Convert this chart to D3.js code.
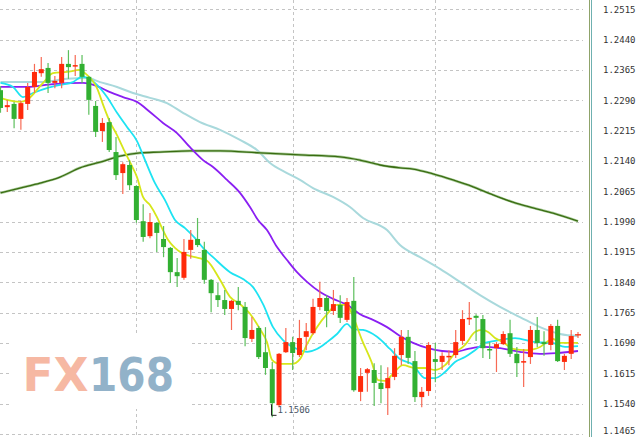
<!DOCTYPE html>
<html><head><meta charset="utf-8">
<script src="https://cdn.jsdelivr.net/npm/d3@7"></script>
<style>html,body{margin:0;padding:0;background:#fff;}svg{display:block;}</style>
</head><body>
<script>
// ---- data ----
const tickLabels = ["1.2515","1.2440","1.2365","1.2290","1.2215","1.2140","1.2065","1.1990","1.1915","1.1840","1.1765","1.1690","1.1615","1.1540","1.1465"];
const gridIdx = [20, 43, 64];
const opens  = [1.2315,1.2273,1.2281,1.2244,1.2281,1.2323,1.2357,1.2370,1.2333,1.2333,1.2380,1.2375,1.2380,1.2348,1.2276,1.2214,1.2236,1.2162,1.2110,1.2130,1.2078,1.1991,1.1954,1.1987,1.1947,1.1925,1.1865,1.1851,1.1920,1.1947,1.1920,1.1846,1.1808,1.1796,1.1774,1.1794,1.1779,1.1700,1.1727,1.1667,1.1625,1.1536,1.1667,1.1692,1.1660,1.1705,1.1714,1.1779,1.1801,1.1769,1.1784,1.1747,1.1794,1.1569,1.1616,1.1623,1.1591,1.1578,1.1606,1.1660,1.1705,1.1645,1.1556,1.1571,1.1650,1.1643,1.1655,1.1660,1.1695,1.1749,1.1757,1.1749,1.1675,1.1677,1.1687,1.1714,1.1663,1.1643,1.1655,1.1722,1.1692,1.1685,1.1732,1.1643,1.1663,1.1709];
const highs  = [1.2325,1.2291,1.2286,1.2288,1.2333,1.2380,1.2397,1.2382,1.2350,1.2397,1.2414,1.2402,1.2402,1.2350,1.2288,1.2246,1.2246,1.2199,1.2137,1.2142,1.2080,1.2033,1.2011,1.1989,1.1979,1.1927,1.1900,1.1947,1.1969,1.1999,1.1940,1.1848,1.1838,1.1821,1.1796,1.1828,1.1791,1.1754,1.1732,1.1729,1.1643,1.1665,1.1727,1.1705,1.1747,1.1739,1.1799,1.1841,1.1808,1.1821,1.1808,1.1801,1.1853,1.1628,1.1628,1.1640,1.1635,1.1630,1.1677,1.1722,1.1722,1.1670,1.1581,1.1692,1.1690,1.1667,1.1672,1.1722,1.1771,1.1791,1.1761,1.1759,1.1692,1.1692,1.1719,1.1747,1.1680,1.1675,1.1732,1.1754,1.1719,1.1737,1.1747,1.1663,1.1722,1.1717];
const lows   = [1.2259,1.2261,1.2221,1.2217,1.2266,1.2308,1.2348,1.2308,1.2320,1.2320,1.2343,1.2350,1.2333,1.2254,1.2199,1.2187,1.2162,1.2093,1.2058,1.2068,1.1987,1.1940,1.1949,1.1915,1.1902,1.1838,1.1828,1.1846,1.1898,1.1927,1.1836,1.1766,1.1779,1.1759,1.1722,1.1771,1.1682,1.1692,1.1650,1.1611,1.1506,1.1531,1.1665,1.1623,1.1655,1.1672,1.1710,1.1771,1.1729,1.1759,1.1739,1.1742,1.1569,1.1546,1.1569,1.1534,1.1541,1.1512,1.1598,1.1635,1.1638,1.1544,1.1531,1.1559,1.1593,1.1623,1.1635,1.1653,1.1685,1.1734,1.1695,1.1653,1.1650,1.1618,1.1685,1.1655,1.1606,1.1581,1.1638,1.1680,1.1658,1.1672,1.1643,1.1623,1.1650,1.1702];
const closes = [1.2271,1.2278,1.2244,1.2283,1.2323,1.2360,1.2367,1.2333,1.2338,1.2380,1.2372,1.2377,1.2348,1.2291,1.2212,1.2234,1.2167,1.2105,1.2132,1.2080,1.1994,1.1952,1.1989,1.1962,1.1927,1.1865,1.1855,1.1915,1.1945,1.1932,1.1846,1.1813,1.1796,1.1774,1.1794,1.1784,1.1702,1.1722,1.1655,1.1628,1.1541,1.1663,1.1692,1.1665,1.1702,1.1719,1.1779,1.1801,1.1769,1.1786,1.1752,1.1791,1.1573,1.1608,1.1625,1.1591,1.1576,1.1603,1.1658,1.1705,1.1653,1.1556,1.1569,1.1685,1.1643,1.1658,1.1658,1.1692,1.1749,1.1752,1.1752,1.1677,1.1672,1.1687,1.1712,1.1663,1.1640,1.1645,1.1722,1.1690,1.1687,1.1732,1.1645,1.1658,1.1707,1.1710];

// moving-average lines, read as [candle index, price]
const maYellow = [[0,1.2296],[0.96,1.2291],[2.87,1.2286],[3.9,1.2291],[6.26,1.2333],[7.73,1.2357],[9.79,1.2360],[11.7,1.2365],[12.44,1.2357],[14.2,1.2320],[15.23,1.2273],[16.12,1.2236],[17.15,1.2204],[18.18,1.2167],[19.06,1.2137],[20.09,1.2100],[20.97,1.2051],[22.0,1.2031],[23.03,1.2001],[23.77,1.1974],[24.65,1.1945],[25.68,1.1925],[26.72,1.1912],[28.63,1.1902],[29.66,1.1898],[30.4,1.1893],[32.31,1.1846],[33.78,1.1804],[35.25,1.1786],[36.72,1.1762],[38.2,1.1724],[39.22,1.1692],[39.96,1.1648],[41.14,1.1638],[42.9,1.1638],[44.08,1.1650],[45.11,1.1687],[46.58,1.1729],[48.06,1.1761],[49.53,1.1784],[51.0,1.1784],[51.74,1.1761],[53.21,1.1697],[54.68,1.1640],[55.56,1.1598],[56.6,1.1596],[57.62,1.1611],[59.24,1.1635],[61.0,1.1628],[62.48,1.1628],[63.95,1.1623],[65.43,1.1635],[66.9,1.1665],[68.37,1.1685],[69.84,1.1717],[70.87,1.1722],[71.76,1.1717],[72.79,1.1702],[73.96,1.1692],[75.43,1.1675],[77.49,1.1672],[79.41,1.1680],[81.32,1.1700],[82.35,1.1690],[85,1.1690]];
const maCyan = [[0,1.2333],[1.84,1.2323],[3.31,1.2298],[4.78,1.2308],[6.84,1.2320],[8.76,1.2328],[10.67,1.2335],[12.0,1.2348],[12.88,1.2345],[14.2,1.2328],[15.68,1.2298],[17.15,1.2259],[18.62,1.2224],[20.09,1.2189],[21.27,1.2142],[22.74,1.2085],[24.21,1.2043],[25.68,1.1994],[27.16,1.1974],[28.63,1.1949],[29.81,1.1925],[31.28,1.1902],[33.78,1.1865],[35.69,1.1848],[37.17,1.1828],[38.64,1.1786],[40.11,1.1729],[41.58,1.1697],[43.64,1.1675],[45.11,1.1668],[46.58,1.1675],[48.06,1.1692],[49.53,1.1712],[51.0,1.1737],[51.88,1.1724],[53.36,1.1722],[55.42,1.1705],[57.33,1.1675],[58.8,1.1650],[60.57,1.1638],[62.48,1.1603],[63.95,1.1603],[65.43,1.1618],[66.9,1.1643],[68.37,1.1655],[69.84,1.1672],[71.31,1.1690],[72.79,1.1695],[75.73,1.1702],[78.67,1.1692],[81.17,1.1690],[83.09,1.1680],[85,1.1682]];
const maPurple = [[0,1.2323],[3.9,1.2323],[7.73,1.2330],[12.15,1.2333],[14.2,1.2325],[16.12,1.2310],[18.03,1.2298],[20.09,1.2286],[22.0,1.2261],[23.92,1.2234],[25.98,1.2209],[27.89,1.2174],[29.81,1.2142],[31.28,1.2125],[33.34,1.2093],[35.25,1.2061],[36.72,1.2026],[37.9,1.1994],[39.22,1.1969],[40.7,1.1927],[42.17,1.1895],[43.64,1.1865],[45.11,1.1841],[47.03,1.1816],[48.94,1.1799],[51.0,1.1784],[52.92,1.1761],[54.83,1.1747],[56.89,1.1729],[58.8,1.1707],[60.72,1.1690],[62.92,1.1677],[64.99,1.1670],[66.9,1.1668],[68.81,1.1675],[70.87,1.1680],[73.52,1.1677],[76.46,1.1668],[79.41,1.1663],[81.91,1.1665],[85,1.1670]];
const maTeal = [[0,1.2335],[5.81,1.2335],[9.79,1.2343],[12.73,1.2345],[14.65,1.2335],[17.15,1.2323],[19.5,1.2308],[22.0,1.2296],[24.5,1.2283],[26.86,1.2259],[29.36,1.2236],[32.31,1.2217],[35.25,1.2192],[37.75,1.2167],[39.67,1.2135],[42.17,1.2110],[44.08,1.2093],[46.0,1.2073],[48.94,1.2051],[51.44,1.2026],[53.36,1.1999],[56.89,1.1969],[58.8,1.1932],[61.75,1.1902],[64.69,1.1873],[67.63,1.1841],[70.58,1.1808],[73.52,1.1779],[76.46,1.1754],[79.41,1.1729],[82.35,1.1712],[85,1.1707]];
const maGreen = [[0,1.2061],[2.87,1.2073],[5.81,1.2085],[8.76,1.2100],[11.7,1.2123],[14.65,1.2137],[17.59,1.2152],[20.53,1.2160],[23.48,1.2162],[27.89,1.2165],[32.31,1.2165],[38.2,1.2160],[44.08,1.2155],[49.97,1.2150],[52.92,1.2142],[55.86,1.2130],[58.8,1.2123],[60.72,1.2120],[63.66,1.2108],[66.6,1.2093],[69.55,1.2076],[72.49,1.2056],[75.43,1.2038],[78.37,1.2024],[81.32,1.2011],[85,1.1991]];
const lowLabel = "1.1506";
const logoParts = ["FX", "168"];

// ---- drawing ----
const W = 640, H = 437;
const svg = d3.select("body").append("svg").attr("width", W).attr("height", H);
const x = d3.scaleLinear().domain([0, 85]).range([0.5, 578]);
const y = d3.scaleLinear().domain([1.1465, 1.2515]).range([433.9, 9.3]);
const ticks = tickLabels.map(Number);

const grid = svg.append("g");
grid.selectAll("line.h").data(ticks).join("line")
  .attr("x1", 0).attr("x2", 583)
  .attr("y1", d => Math.round(y(d)) + 0.5).attr("y2", d => Math.round(y(d)) + 0.5)
  .attr("stroke", "#c4c4c4").attr("stroke-dasharray", "3,3");
grid.selectAll("line.v").data(gridIdx).join("line")
  .attr("x1", d => Math.round(x(d)) + 0.5).attr("x2", d => Math.round(x(d)) + 0.5)
  .attr("y1", 0).attr("y2", H)
  .attr("stroke", "#c4c4c4").attr("stroke-dasharray", "3,3");

// logo box + logo
svg.append("rect").attr("x", 9).attr("y", 335).attr("width", 181).attr("height", 74).attr("fill", "#fff");
svg.append("text").attr("x", 22.5).attr("y", 391).text(logoParts[0])
  .attr("font-family", "DejaVu Sans").attr("font-weight", "bold").attr("font-size", 47)
  .attr("textLength", 66).attr("lengthAdjust", "spacingAndGlyphs").attr("fill", "#f6b8a3");
svg.append("text").attr("x", 89).attr("y", 391).text(logoParts[1])
  .attr("font-family", "DejaVu Sans").attr("font-weight", "bold").attr("font-size", 47)
  .attr("textLength", 85).attr("lengthAdjust", "spacingAndGlyphs").attr("fill", "#92b2c9");

// MA lines
const line = d3.line().x(d => x(d[0])).y(d => y(d[1])).curve(d3.curveMonotoneX);
const lines = svg.append("g").attr("fill", "none").attr("stroke-linejoin", "round");
lines.append("path").attr("d", line(maTeal)).attr("stroke", "#a9d9dc").attr("stroke-width", 2);
lines.append("path").attr("d", line(maGreen)).attr("stroke", "#a9cc9a").attr("stroke-width", 2.6);
lines.append("path").attr("d", line(maGreen)).attr("stroke", "#3a6c12").attr("stroke-width", 1.3);
lines.append("path").attr("d", line(maPurple)).attr("stroke", "#8a1ff2").attr("stroke-width", 1.8);
lines.append("path").attr("d", line(maCyan)).attr("stroke", "#1ee3f2").attr("stroke-width", 1.8);
lines.append("path").attr("d", line(maYellow)).attr("stroke", "#d6e61a").attr("stroke-width", 1.8);

// candles
const candles = d3.range(opens.length).map(i => ({i, o: opens[i], h: highs[i], l: lows[i], c: closes[i]}));
const up = d => d.c >= d.o;
const cg = svg.append("g");
cg.selectAll("line.wick").data(candles).join("line")
  .attr("x1", d => x(d.i)).attr("x2", d => x(d.i))
  .attr("y1", d => y(d.h)).attr("y2", d => y(d.l))
  .attr("stroke", d => up(d) ? "#f76a55" : "#5cbf5c").attr("stroke-width", 1.2);
cg.selectAll("rect.body").data(candles.slice(0, -1)).join("rect")
  .attr("x", d => x(d.i) - 2.5).attr("width", 5)
  .attr("y", d => y(Math.max(d.o, d.c)))
  .attr("height", d => Math.max(1.5, Math.abs(y(d.o) - y(d.c))))
  .attr("fill", d => up(d) ? "#ff2a0a" : "#32b032");
// last (forming) candle as a cross
const last = candles[candles.length - 1];
cg.append("line").attr("x1", x(last.i) - 3).attr("x2", x(last.i) + 3)
  .attr("y1", y(last.c)).attr("y2", y(last.c)).attr("stroke", "#ff2a0a").attr("stroke-width", 1.3);

// lowest-low marker
const lowI = d3.minIndex(lows);
const lx = Math.round(x(lowI)) - 0.5, ly = y(lows[lowI]);
svg.append("path").attr("d", `M${lx},${ly - 13}V${ly - 2}H${lx + 5}`)
  .attr("fill", "none").attr("stroke", "#222").attr("stroke-width", 1);
svg.append("text").attr("x", lx + 6).attr("y", ly - 4).text(lowLabel)
  .attr("font-family", "DejaVu Sans Mono").attr("font-size", 9).attr("fill", "#4a5668");

// right border
svg.append("line").attr("x1", 589.5).attr("x2", 589.5).attr("y1", 0).attr("y2", H).attr("stroke", "#8fa36a");
svg.append("line").attr("x1", 591.5).attr("x2", 591.5).attr("y1", 0).attr("y2", H).attr("stroke", "#6fb0b0");

// price axis
const axis = d3.axisRight(y).tickValues(ticks).tickSize(0).tickPadding(0).tickFormat((d, i) => tickLabels[i]);
const ag = svg.append("g").attr("transform", "translate(603,0)").call(axis);
ag.select(".domain").remove();
ag.selectAll("text").attr("font-family", "DejaVu Sans Mono").attr("font-size", 9).attr("fill", "#333");
// keep the lowest label inside the window
ag.selectAll(".tick").filter((d, i) => i === tickLabels.length - 1).select("text").attr("dy", "-0.05em");
</script>
</body></html>
